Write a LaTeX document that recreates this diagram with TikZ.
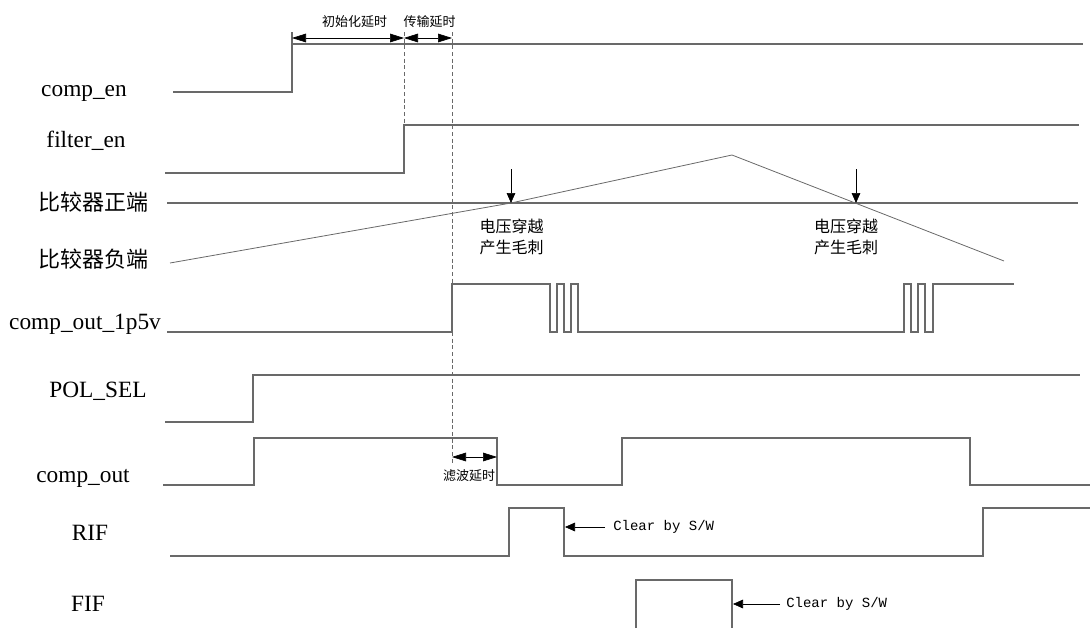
\documentclass[tikz,border=0pt]{standalone}
\usepackage{fontspec}
\setmainfont{Liberation Serif}
\newfontfamily\cjk{Noto Sans CJK SC}
\newfontfamily\monof{Liberation Mono}
\usetikzlibrary{arrows.meta}
\definecolor{wire}{RGB}{105,105,105}
\begin{document}
\begin{tikzpicture}[x=0.75pt,y=-0.75pt,
  sig/.style={draw=wire,line width=0.8pt},
  lbl/.style={inner sep=0pt,font=\fontsize{17.5}{20}\selectfont},
  clbl/.style={inner sep=0pt,font=\cjk\fontsize{16.5}{20}\selectfont},
  note/.style={inner sep=0pt,font=\cjk\fontsize{12}{15.75}\selectfont,align=center},
  dimtxt/.style={inner sep=0pt,font=\cjk\fontsize{9.75}{12}\selectfont},
  clr/.style={inner sep=0pt,anchor=west,font=\monof\fontsize{10.5}{12}\selectfont},
  dim/.style={draw=black,line width=0.5pt,{Triangle[length=10.5pt,width=6.5pt]}-{Triangle[length=10.5pt,width=6.5pt]}},
  ptr/.style={draw=black,line width=0.5pt,-{Triangle[length=7.5pt,width=6.5pt]}},
  guide/.style={draw=wire,line width=0.6pt,dash pattern=on 3pt off 2pt}]
\useasboundingbox (0,0) rectangle (1091,628);

% signal labels
\node[lbl,anchor=base] (Lcompen) at (84,96) {comp\_en};
\node[lbl,anchor=base] (Lfilt) at (86,147) {filter\_en};
\node[clbl] (Lpos) at (93,202) {比较器正端};
\node[clbl] (Lneg) at (93,259) {比较器负端};
\node[lbl,anchor=base] (L15) at (85,329) {comp\_out\_1p5v};
\node[lbl,anchor=base] (Lpol) at (98,397) {POL\_SEL};
\node[lbl,anchor=base] (Lout) at (83,482) {comp\_out};
\node[lbl,anchor=base] (Lrif) at (90,540) {RIF};
\node[lbl,anchor=base] (Lfif) at (88,611) {FIF};

% guide coordinates
\coordinate (g1t) at (292,32);
\coordinate (g2t) at (404,32);
\coordinate (g2b) at (404,125);
\coordinate (g3t) at (452,32);
\coordinate (g3b) at (452,465);

% dashed guides
\draw[guide] (g2t) -- (g2b);
\draw[guide] (g3t) -- (g3b);

% comp_en
\draw[sig] (173,92) -- (292,92) -- (g1t);
\draw[sig] (292,44) -- (1083,44);
% filter_en
\draw[sig] (165,173) -- (404,173) -- (404,125) -- (1079,125);
% positive terminal
\draw[sig] (167,203) -- (1078,203);
% negative terminal
\draw[draw=wire,line width=0.6pt] (170,263) -- (511,203) -- (732,155) -- (1004,261);
% comp_out_1p5v
\draw[sig] (167,332) -- (452,332) -- (452,284) -- (550,284) -- (550,332) -- (557,332) -- (557,284)
  -- (564,284) -- (564,332) -- (571,332) -- (571,284) -- (578,284) -- (578,332) -- (904,332)
  -- (904,284) -- (911,284) -- (911,332) -- (918,332) -- (918,284) -- (925,284) -- (925,332)
  -- (933,332) -- (933,284) -- (1014,284);
% POL_SEL
\draw[sig] (165,422) -- (253,422) -- (253,375) -- (1080,375);
% comp_out
\draw[sig] (163,485) -- (254,485) -- (254,438) -- (497,438) -- (497,485) -- (622,485) -- (622,438)
  -- (970,438) -- (970,485) -- (1090,485);
% RIF
\draw[sig] (170,556) -- (509,556) -- (509,508) -- (564,508) -- (564,556) -- (983,556) -- (983,508) -- (1090,508);
% FIF
\draw[sig] (636,628) -- (636,580) -- (732,580) -- (732,628);

% dimension arrows
\draw[dim] (292,38) -- (404,38);
\draw[dim] (404,38) -- (452,38);
\node[dimtxt] (tinit) at (354.5,22) {初始化延时};
\node[dimtxt] (ttran) at (429.5,22) {传输延时};
\draw[dim] (452,457) -- (497,457);
\node[dimtxt] (tfilt) at (469,476) {滤波延时};

% crossing pointers
\coordinate (c1) at (511,203);
\coordinate (c1t) at (511,169);
\coordinate (c2) at (856,203);
\coordinate (c2t) at (856,169);
\draw[ptr] (c1t) -- (c1);
\draw[ptr] (c2t) -- (c2);
\node[note] (n1) at (511.5,236.5) {电压穿越\\产生毛刺};
\node[note] (n2) at (846,236.5) {电压穿越\\产生毛刺};

% clear by software
\node[clr] (cr1) at (613,527) {Clear by S/W};
\coordinate (r1) at (565,527);
\draw[ptr] (605,527) -- (r1);
\node[clr] (cr2) at (786,604) {Clear by S/W};
\coordinate (r2) at (733,604);
\draw[ptr] (780,604) -- (r2);
\end{tikzpicture}
\end{document}
